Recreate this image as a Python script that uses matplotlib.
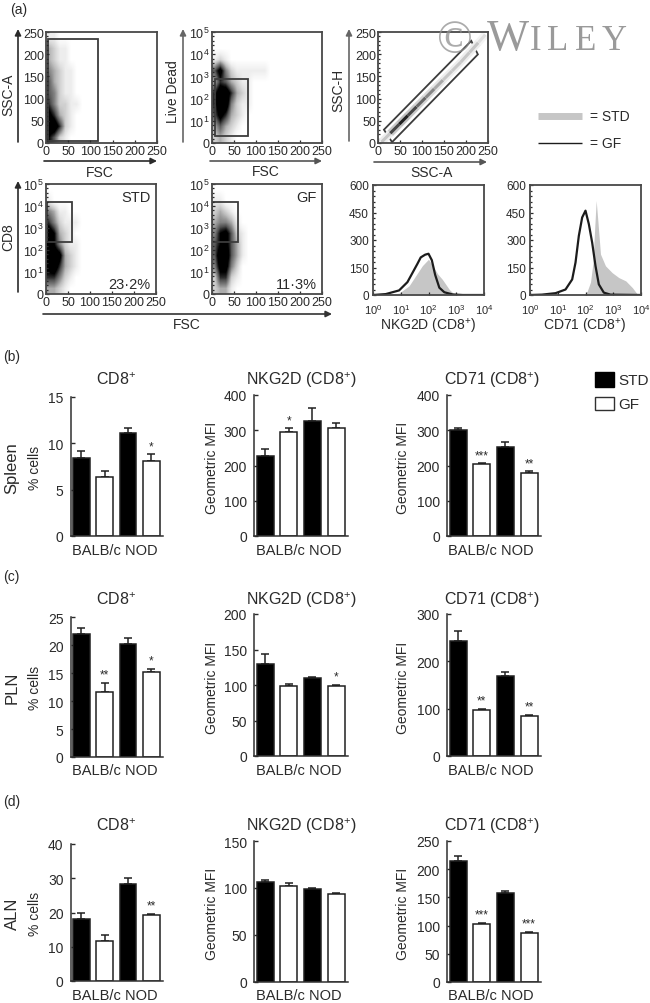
# Import visualisation libraries
import matplotlib
matplotlib.use("Agg")
import matplotlib.pyplot as plt
import numpy as np
from matplotlib.patches import Polygon, Rectangle

plt.rcParams["font.family"] = ["Liberation Sans", "DejaVu Sans"]
plt.rcParams["mathtext.fontset"] = "custom"
plt.rcParams["mathtext.rm"] = "Liberation Sans"
plt.rcParams["mathtext.default"] = "rm"

FIG_W, FIG_H = 650, 1004
INK = "#2a2a2a"
FRAME = "#484848"
GATE = "#3c3c3c"
CELL = 12.5  # FSC width of one density column

# Bar data, order is BALB/c STD, BALB/c GF, NOD STD, NOD GF
spleen_cd8 = [8.4, 6.4, 11.1, 8.1]
spleen_cd8_err = [0.8, 0.6, 0.6, 0.7]
spleen_nkg2d = [228, 296, 325, 305]
spleen_nkg2d_err = [20, 9, 37, 15]
spleen_cd71 = [302, 205, 253, 180]
spleen_cd71_err = [5, 2, 15, 4]

pln_cd8 = [22, 11.6, 20.2, 15.1]
pln_cd8_err = [1.0, 1.7, 1.0, 0.7]
pln_nkg2d = [130, 98, 110, 99]
pln_nkg2d_err = [14, 3, 1, 1]
pln_cd71 = [244, 97, 170, 85]
pln_cd71_err = [21, 3, 8, 2]

aln_cd8 = [18, 11.8, 28.3, 19.2]
aln_cd8_err = [2.0, 1.7, 1.7, 0.4]
aln_nkg2d = [106, 102, 99, 94]
aln_nkg2d_err = [3, 3, 1, 1]
aln_cd71 = [215, 103, 158, 87]
aln_cd71_err = [8, 2, 4, 2]

spleen_stars = [["", "", "", "*"], ["", "*", "", ""], ["", "***", "", "**"]]
pln_stars = [["", "**", "", "*"], ["", "", "", "*"], ["", "**", "", "**"]]
aln_stars = [["", "", "", "**"], ["", "", "", ""], ["", "***", "", "***"]]

spleen_ticks = [[0, 5, 10, 15], [0, 100, 200, 300, 400], [0, 100, 200, 300, 400]]
pln_ticks = [[0, 5, 10, 15, 20, 25], [0, 50, 100, 150, 200], [0, 100, 200, 300]]
aln_ticks = [[0, 10, 20, 30, 40], [0, 50, 100, 150], [0, 50, 100, 150, 200, 250]]

titles = ["CD8$^{+}$", "NKG2D (CD8$^{+}$)", "CD71 (CD8$^{+}$)"]
y_names = ["% cells", "Geometric MFI", "Geometric MFI"]
bar_colors = ["black", "white", "black", "white"]

# Histogram curves, x is in decades
nkg_gf_x = [0, 0.46, 0.94, 1.24, 1.42, 1.6, 1.72, 1.88, 2.0, 2.12, 2.24, 2.39, 2.57, 2.87, 3.23, 4]
nkg_gf_y = [0, 5, 25, 70, 120, 170, 205, 220, 225, 190, 110, 40, 15, 3, 0, 0]
nkg_std_x = [0, 0.46, 0.94, 1.3, 1.54, 1.78, 2.0, 2.15, 2.33, 2.5, 2.75, 2.93, 3.35, 4]
nkg_std_y = [0, 2, 10, 50, 105, 160, 195, 160, 115, 85, 30, 4, 0, 0]
cd71_gf_x = [0, 0.43, 0.92, 1.28, 1.52, 1.64, 1.76, 1.88, 2.0, 2.12, 2.24, 2.36, 2.48, 2.66, 2.9, 4]
cd71_gf_y = [0, 2, 10, 30, 85, 177, 323, 423, 460, 387, 286, 159, 58, 13, 2, 0]
cd71_std_x = [0, 1.94, 2.06, 2.18, 2.27, 2.33, 2.385, 2.45, 2.54, 2.72, 2.96, 3.2, 3.45, 3.69, 3.87, 4]
cd71_std_y = [0, 0, 20, 70, 177, 360, 515, 396, 223, 159, 122, 95, 77, 40, 4, 0]

# Dot plot densities read by eye, 0 is empty and 7 or more is solid, top row first
ssc_density = [
    [1, 1, 0, 0, 0, 0, 0, 0, 0, 0],
    [3, 2, 1, 1, 0, 0, 0, 0, 0, 0],
    [3, 2, 1, 1, 0, 0, 0, 0, 0, 0],
    [4, 3, 2, 1, 1, 0, 0, 0, 0, 0],
    [5, 3, 2, 1, 1, 0, 0, 0, 0, 0],
    [5, 4, 2, 1, 1, 0, 0, 0, 0, 0],
    [6, 4, 2, 2, 1, 1, 0, 0, 0, 0],
    [8, 6, 3, 2, 1, 0, 0, 0, 0, 0],
    [9, 9, 6, 2, 1, 0, 0, 0, 0, 0],
    [7, 5, 2, 1, 0, 0, 0, 0, 0, 0],
]
live_density = [
    [0, 0, 0, 0, 0, 0, 0, 0, 0, 0, 0, 0],
    [0, 0, 0, 0, 0, 0, 0, 0, 0, 0, 0, 0],
    [1, 2, 1, 0, 0, 0, 0, 0, 0, 0, 0, 0],
    [5, 8, 4, 2, 1, 1, 1, 1, 1, 1, 0, 0],
    [3, 6, 5, 3, 2, 1, 1, 0, 0, 0, 0, 0],
    [6, 9, 9, 6, 3, 2, 1, 0, 0, 0, 0, 0],
    [6, 9, 9, 4, 2, 1, 1, 0, 0, 0, 0, 0],
    [5, 8, 6, 3, 2, 1, 0, 0, 0, 0, 0, 0],
    [3, 5, 3, 2, 1, 0, 0, 0, 0, 0, 0, 0],
    [2, 3, 2, 1, 0, 0, 0, 0, 0, 0, 0, 0],
]
std_density = [
    [0, 0, 0, 0, 0, 0, 0, 0],
    [1, 0, 0, 0, 0, 0, 0, 0],
    [4, 3, 1, 1, 0, 0, 0, 0],
    [6, 4, 2, 1, 1, 1, 0, 0],
    [9, 7, 3, 2, 1, 0, 0, 0],
    [8, 7, 4, 2, 1, 1, 0, 0],
    [9, 9, 8, 3, 2, 1, 0, 0],
    [8, 9, 6, 3, 2, 1, 0, 0],
    [6, 6, 4, 2, 1, 0, 0, 0],
    [3, 3, 2, 1, 0, 0, 0, 0],
]
gf_density = [
    [0, 0, 0, 0, 0, 0, 0, 0],
    [1, 1, 0, 0, 0, 0, 0, 0],
    [2, 3, 2, 1, 0, 0, 0, 0],
    [3, 4, 4, 3, 1, 0, 0, 0],
    [4, 7, 8, 5, 2, 1, 0, 0],
    [5, 7, 8, 5, 3, 1, 0, 0],
    [5, 9, 9, 5, 3, 1, 0, 0],
    [4, 8, 8, 4, 2, 0, 0, 0],
    [2, 6, 6, 2, 1, 0, 0, 0],
    [2, 3, 3, 1, 0, 0, 0, 0],
]

# Singlet diagonal, darkness along SSC-A
diag_a = [8, 28, 48, 68, 88, 108, 128, 148, 168, 188, 208, 228, 244]
diag_h = [2, 22, 42, 62, 82, 102, 122, 142, 162, 182, 204, 226, 244]
diag_dark = [3, 7, 8, 7, 6, 5, 4, 3, 3, 3, 3, 2, 1]

linear_ticks = [0, 50, 100, 150, 200, 250]
decade_ticks = [0, 1, 2, 3, 4, 5]
decade_labels = ["0", "$10^{1}$", "$10^{2}$", "$10^{3}$", "$10^{4}$", "$10^{5}$"]

# Watermark letters and where each one starts
mark_letters = ["I", "L", "E", "Y"]
mark_starts = [530, 547, 575, 602]


def pixel_axes(left, top, right, bottom):
    return fig.add_axes([left / FIG_W, 1 - bottom / FIG_H, (right - left) / FIG_W, (bottom - top) / FIG_H])


def frame(ax):
    for s in ax.spines.values():
        s.set_linewidth(1.3)
        s.set_color(FRAME)
    ax.tick_params(which="major", direction="in", length=2.5, width=0.9, color=INK, labelcolor=INK, pad=1.5)
    ax.tick_params(which="minor", direction="in", length=1.5, width=0.9, color=INK)


def dot_axes(box, density, top, ticks, labels):
    ax = pixel_axes(*box)
    rows = np.array(density)
    ax.imshow(rows, extent=[0, rows.shape[1] * CELL, 0, top], aspect="auto", cmap="Greys",
              vmin=0, vmax=7, interpolation="bilinear")
    ax.set_xlim(0, 250)
    ax.set_ylim(0, top)
    ax.set_xticks(linear_ticks)
    ax.set_xticklabels(linear_ticks, fontsize=9)
    ax.set_yticks(ticks)
    ax.set_yticklabels(labels, fontsize=9)
    ax.set_yticks(np.arange(0, top, top / 25), minor=True)
    frame(ax)
    return ax


def gate(ax, x0, x1, y0, y1):
    ax.add_patch(Rectangle((x0, y0), x1 - x0, y1 - y0, fill=False, ec=GATE, lw=1.3))


def histogram(box, std_x, std_y, gf_x, gf_y, label_x, label):
    ax = pixel_axes(*box)
    ax.fill_between(10 ** np.array(std_x), std_y, color="#c6c6c6", lw=0)
    ax.plot(10 ** np.array(gf_x), gf_y, color="#1c1c1c", lw=1.6)
    ax.set_xscale("log")
    ax.set_xlim(1, 1e4)
    ax.set_ylim(0, 600)
    ax.set_xticks([1, 10, 100, 1000, 10000])
    ax.set_xticklabels(["$10^{0}$", "$10^{1}$", "$10^{2}$", "$10^{3}$", "$10^{4}$"], fontsize=8)
    ax.set_yticks([0, 150, 300, 450, 600])
    ax.set_yticklabels([0, 150, 300, 450, 600], fontsize=8.5)
    ax.set_yticks(np.arange(0, 600, 30), minor=True)
    frame(ax)
    ax.tick_params(axis="x", pad=5)
    ax.tick_params(axis="y", pad=3)
    page.text(label_x, 327, label, ha="center", va="center", fontsize=10, color=INK)


def arrow(x0, y0, x1, y1, color=INK):
    page.annotate("", xy=(x1, y1), xytext=(x0, y0),
                  arrowprops=dict(arrowstyle="-|>", color=color, lw=1.2, mutation_scale=9, shrinkA=0, shrinkB=0))


def bar_panel(box, values, errs, stars, ticks):
    ax = pixel_axes(*box)
    xpos = np.arange(4)
    ax.bar(xpos, values, width=0.71, color=bar_colors, edgecolor="#202020", linewidth=1.1, zorder=2)
    ax.errorbar(xpos, values, yerr=[np.zeros(4), errs], fmt="none", ecolor="#202020", elinewidth=1.1,
                capsize=3, capthick=1.1, zorder=1)
    for x, v, e, s in zip(xpos, values, errs, stars):
        if s:
            ax.annotate(s, (x, v + e), xytext=(0, 1.5), textcoords="offset points", ha="center", va="bottom",
                        fontsize=8.5, color=INK)
    ax.set_xlim(-0.47, 3.5)
    ax.set_ylim(0, ticks[-1])
    ax.set_xticks([])
    ax.set_yticks(ticks)
    ax.set_yticklabels(ticks, fontsize=10, color=INK)
    ax.spines["top"].set_visible(False)
    ax.spines["right"].set_visible(False)
    ax.spines["left"].set_color("#303030")
    ax.spines["bottom"].set_color("#303030")
    ax.spines["left"].set_linewidth(1.1)
    ax.spines["bottom"].set_linewidth(1.1)
    ax.tick_params(axis="y", direction="in", length=3, width=1, color=INK, pad=5)


# Create plot
fig = plt.figure(figsize=(FIG_W / 100, FIG_H / 100), dpi=100)

# Page layer in pixel coordinates for labels and arrows
page = fig.add_axes([0, 0, 1, 1], zorder=-1)
page.set_xlim(0, FIG_W)
page.set_ylim(FIG_H, 0)
page.axis("off")

# Panel (a) dot plots
ax = dot_axes((46, 33, 157, 144), ssc_density, 250, linear_ticks, linear_ticks)
gate(ax, 4, 118, 5, 234)
ax = dot_axes((212, 33, 322, 144), live_density, 5, decade_ticks, decade_labels)
gate(ax, 7, 81, 0.33, 2.88)

ax = dot_axes((378, 33, 488, 144), [[0]], 250, linear_ticks, linear_ticks)
for i in range(len(diag_a) - 1):
    seg_a = diag_a[i:i + 2]
    seg_h = diag_h[i:i + 2]
    ax.plot(seg_a, seg_h, color=plt.cm.Greys(diag_dark[i] / 22), lw=5.5, solid_capstyle="butt")
    ax.plot(seg_a, seg_h, color=plt.cm.Greys(diag_dark[i] / 9), lw=2.2, solid_capstyle="butt")
ax.add_patch(Polygon([(13.5, 30), (32, 2), (227, 199.5), (212, 230)], fill=False, ec=GATE, lw=1.3))

ax = dot_axes((46, 185, 156, 295), std_density, 5, decade_ticks, decade_labels)
gate(ax, 1.6, 60, 2.36, 4.18)
ax.text(0.95, 0.88, "STD", transform=ax.transAxes, ha="right", va="center", fontsize=10.5, color=INK)
ax.text(0.95, 0.09, "23·2%", transform=ax.transAxes, ha="right", va="center", fontsize=10.5, color=INK)

ax = dot_axes((212, 185, 322, 295), gf_density, 5, decade_ticks, decade_labels)
gate(ax, 0, 60, 2.36, 4.18)
ax.text(0.95, 0.88, "GF", transform=ax.transAxes, ha="right", va="center", fontsize=10.5, color=INK)
ax.text(0.95, 0.09, "11·3%", transform=ax.transAxes, ha="right", va="center", fontsize=10.5, color=INK)

# Panel (a) histograms
histogram((373, 186, 484, 296), nkg_std_x, nkg_std_y, nkg_gf_x, nkg_gf_y, 428, "NKG2D (CD8$^{+}$)")
histogram((530, 186, 641, 296), cd71_std_x, cd71_std_y, cd71_gf_x, cd71_gf_y, 585, "CD71 (CD8$^{+}$)")

# Axis arrows and their names
arrow(18, 143, 18, 30)
arrow(44, 162, 157, 162)
arrow(183, 143, 183, 30, "#666666")
arrow(210, 162, 322, 162, "#555555")
arrow(349, 142, 349, 30, "#666666")
arrow(374, 163, 487, 163, "#555555")
arrow(18, 293, 18, 182)
arrow(43, 315, 332, 315, "#333333")

for x, y, s, r in [(8, 95, "SSC-A", 90), (100, 173, "FSC", 0), (173, 92, "Live Dead", 90), (266, 172, "FSC", 0),
                   (338, 90, "SSC-H", 90), (432, 173, "SSC-A", 0), (8, 237, "CD8", 90), (187, 325, "FSC", 0)]:
    page.text(x, y, s, rotation=r, ha="center", va="center", fontsize=10, color=INK)

# Histogram key
page.plot([538, 582], [117, 117], color="#c6c6c6", lw=5, solid_capstyle="butt")
page.plot([538, 582], [144, 144], color="#1c1c1c", lw=1, solid_capstyle="butt")
page.text(590, 117, "= STD", ha="left", va="center", fontsize=10, color=INK)
page.text(590, 144, "= GF", ha="left", va="center", fontsize=10, color=INK)

# Panel letters
for y, s in [(10, "(a)"), (357, "(b)"), (577, "(c)"), (802, "(d)")]:
    page.text(10 if s == "(a)" else 3, y, s, ha="left", va="center", fontsize=10, color=INK)

# Bar rows
col_left = [70.5, 254, 447]
col_right = [163, 348, 541]
col_title = [116, 301, 492.5]
col_names = [35, 212, 403]
col_group = [114.5, 299, 491]

row_values = [[spleen_cd8, spleen_nkg2d, spleen_cd71], [pln_cd8, pln_nkg2d, pln_cd71], [aln_cd8, aln_nkg2d, aln_cd71]]
row_errs = [[spleen_cd8_err, spleen_nkg2d_err, spleen_cd71_err], [pln_cd8_err, pln_nkg2d_err, pln_cd71_err],
            [aln_cd8_err, aln_nkg2d_err, aln_cd71_err]]
row_stars = [spleen_stars, pln_stars, aln_stars]
row_ticks = [spleen_ticks, pln_ticks, aln_ticks]
row_names = ["Spleen", "PLN", "ALN"]
row_top = [[398, 396, 396], [618, 615, 615], [845, 842, 842]]
row_bottom = [[537, 537, 537], [758, 757, 757], [982, 983, 983]]
row_title = [380, 600, 826]
row_group = [551, 771, 996]
row_mid = [468, 688, 914]

for r in range(3):
    page.text(12, row_mid[r], row_names[r], rotation=90, ha="center", va="center", fontsize=12, color=INK)
    for c in range(3):
        bar_panel((col_left[c], row_top[r][c], col_right[c], row_bottom[r][c]),
                  row_values[r][c], row_errs[r][c], row_stars[r][c], row_ticks[r][c])
        page.text(col_title[c], row_title[r], titles[c], ha="center", va="center", fontsize=11.5, color=INK)
        page.text(col_group[c], row_group[r], "BALB/c NOD", ha="center", va="center", fontsize=10.5, color=INK)
        page.text(col_names[c], row_mid[r], y_names[c], rotation=90, ha="center", va="center", fontsize=10, color=INK)

# Bar key
page.add_patch(Rectangle((595, 373), 19, 15, fc="black", ec="black", lw=1))
page.add_patch(Rectangle((595, 398), 19, 13, fc="white", ec="#303030", lw=1))
page.text(618, 381, "STD", ha="left", va="center", fontsize=11, color=INK)
page.text(618, 405, "GF", ha="left", va="center", fontsize=11, color=INK)

# Watermark goes on top of everything
mark = fig.add_axes([0, 0, 1, 1], zorder=5)
mark.set_xlim(0, FIG_W)
mark.set_ylim(FIG_H, 0)
mark.axis("off")
mark.text(455, 42, "©", family="Liberation Serif", fontsize=34, color="#8f8f8f", alpha=0.75, ha="center", va="center")
mark.text(487, 50, "W", family="Liberation Serif", fontsize=32, color="#8f8f8f", alpha=0.9, ha="left", va="baseline")
for x, s in zip(mark_starts, mark_letters):
    mark.text(x, 50, s, family="Liberation Serif", fontsize=25, color="#8f8f8f", alpha=0.9, ha="left", va="baseline")

# Save the graph
plt.savefig("out.png", dpi=100)
